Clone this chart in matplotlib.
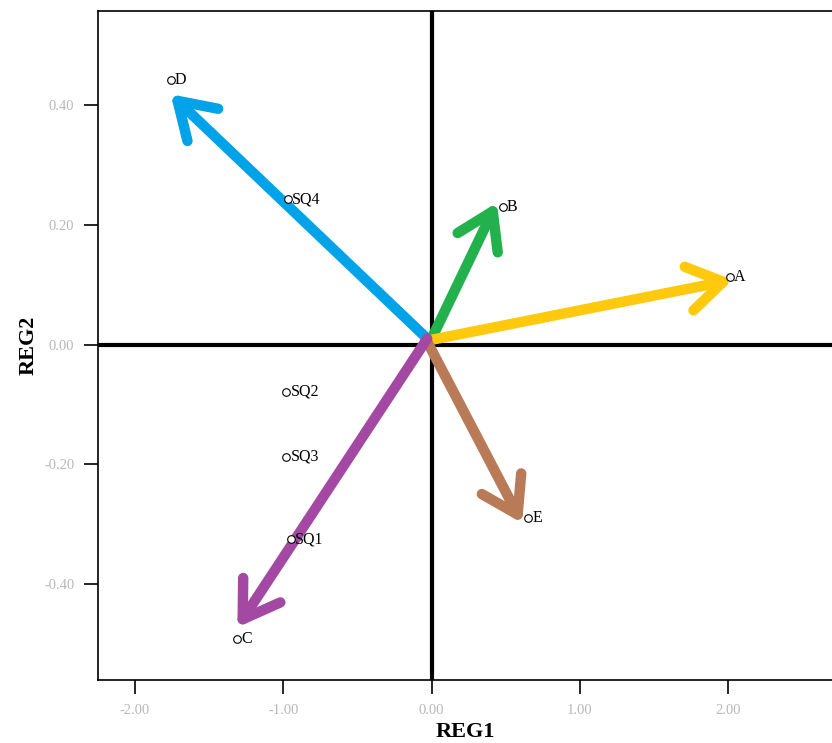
import matplotlib
matplotlib.use("Agg")
import matplotlib.pyplot as plt

# points (REG1, REG2) with labels
labels = ["D", "SQ4", "B", "A", "SQ2", "SQ3", "SQ1", "E", "C"]
reg1 = [-1.76, -0.97, 0.48, 2.01, -0.98, -0.98, -0.95, 0.65, -1.31]
reg2 = [0.441, 0.243, 0.230, 0.113, -0.079, -0.187, -0.325, -0.290, -0.491]

# hand drawn arrows from the origin
arrow_tip_x = [-1.76, 0.44, 2.03, 0.61, -1.31]
arrow_tip_y = [0.418, 0.237, 0.108, -0.298, -0.472]
arrow_start_x = [-0.03, 0.0, 0.0, -0.03, -0.03]
arrow_start_y = [0.010, 0.010, 0.008, 0.005, 0.010]
arrow_colors = ["#00A2E8", "#22B14C", "#FFC90E", "#B97A57", "#A349A4"]

xticks = [-2.0, -1.0, 0.0, 1.0, 2.0]
yticks = [-0.4, -0.2, 0.0, 0.2, 0.4]

plt.rcParams["font.family"] = ["Liberation Serif", "DejaVu Serif"]

fig = plt.figure(figsize=(8.32, 7.43), dpi=100)
ax = fig.add_axes([98 / 832, 63 / 743, (832 - 98) / 832, (681 - 12) / 743])

ax.set_xlim(-2.25, 2.70)
ax.set_ylim(-0.56, 0.557)

# reference lines through origin
ax.axvline(0, color="black", lw=3, zorder=1)
ax.axhline(0, color="black", lw=3, zorder=1)

for i in range(len(arrow_tip_x)):
    ax.annotate("", xy=(arrow_tip_x[i], arrow_tip_y[i]),
                xytext=(arrow_start_x[i], arrow_start_y[i]),
                arrowprops=dict(arrowstyle="->,head_length=1.25,head_width=0.8",
                                color=arrow_colors[i], lw=7.5, mutation_scale=20,
                                shrinkA=0, shrinkB=0, capstyle="round",
                                joinstyle="round"),
                zorder=2)

ax.scatter(reg1, reg2, s=30, facecolors="white", edgecolors="black",
           linewidths=0.8, zorder=3)
for i in range(len(labels)):
    ax.annotate(labels[i], (reg1[i], reg2[i]), xytext=(3, 0),
                textcoords="offset points", ha="left", va="center",
                fontsize=11.5, zorder=4)

ax.set_xticks(xticks)
ax.set_yticks(yticks)
ax.set_xticklabels(["%.2f" % v for v in xticks])
ax.set_yticklabels(["%.2f" % v for v in yticks])
ax.tick_params(direction="out", length=10, width=1.2, colors="black",
               labelcolor="#b8b8b8", labelsize=10.5, pad=7)

ax.spines["right"].set_visible(False)
for s in ["left", "bottom", "top"]:
    ax.spines[s].set_linewidth(1.2)

ax.set_xlabel("REG1", fontsize=16, fontweight="bold", labelpad=4)
ax.set_ylabel("REG2", fontsize=16, fontweight="bold", labelpad=4)

fig.savefig("out.png", dpi=100)
